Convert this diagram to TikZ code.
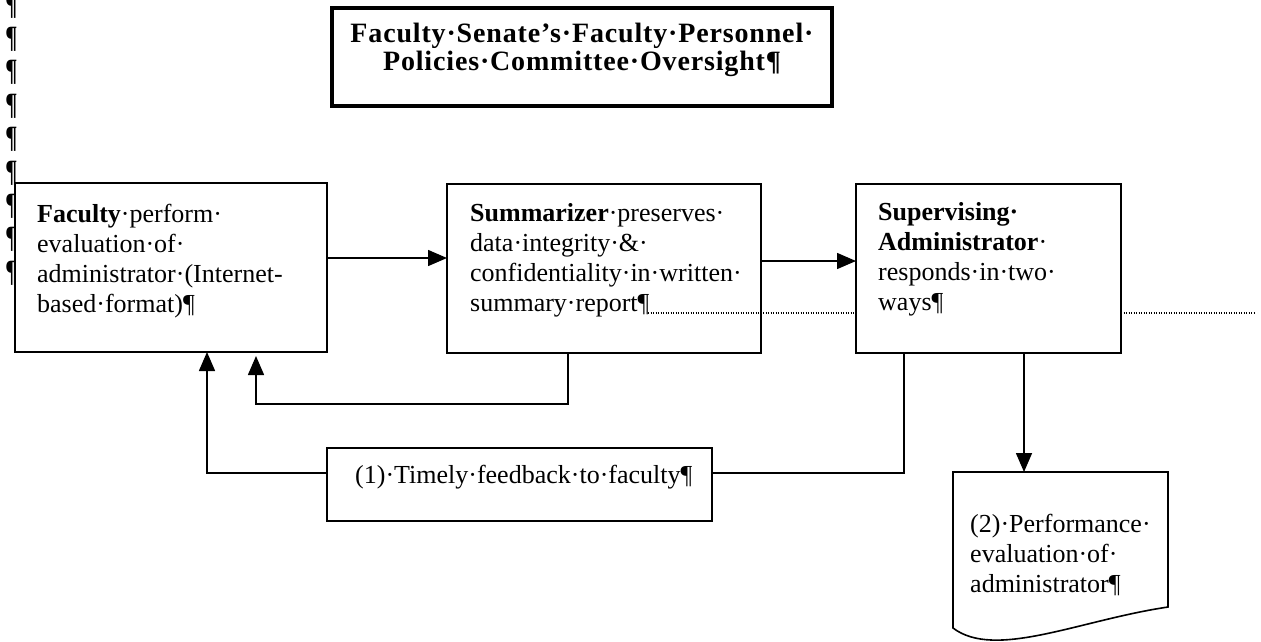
\documentclass[tikz,border=0pt]{standalone}
\usepackage{fontspec}
\usepackage{graphicx}
\setmainfont{Liberation Serif}
\usetikzlibrary{arrows.meta,calc}
\begin{document}
\begin{tikzpicture}[x=1pt,y=-1pt,
  box/.style={draw, line width=1.6pt, anchor=north west, inner sep=0pt, outer sep=0pt, fill=white},
  txt/.style={anchor=base west, inner sep=0pt, align=left, text width=300pt, font=\fontsize{26}{30}\selectfont},
  conn/.style={line width=1.5pt},
  arr/.style={conn, -{Triangle[length=19pt,width=16pt]}},
  pil/.style={inner sep=0pt, font=\fontsize{31}{32}\selectfont\bfseries},
  dotline/.style={line width=1.2pt, dash pattern=on 1.2pt off 1.3pt},
]
\useasboundingbox (0,0) rectangle (1261,641);

% left paragraph marks
\foreach \i/\y in {1/5.8,2/39.2,3/72.6,4/106,5/139.4,6/172.8,7/206.2,8/239.6,9/273}
  \node[pil] (p\i) at (11.5,\y) {\scalebox{0.72}[1]{¶}};

% title
\node[draw, line width=4.5pt, minimum width=500pt, minimum height=98pt, inner sep=0pt] (title) at (582,57) {};
\node[anchor=base, inner sep=0pt, align=center, text width=490pt,
      font=\fontsize{28}{28}\selectfont\bfseries\addfontfeatures{LetterSpace=3}] (ttitle) at (582,42)
  {Faculty·Senate’s·Faculty·Personnel·\\Policies·Committee·Oversight¶};

% boxes
\node[box, minimum width=312pt, minimum height=169pt] (fac) at (15,183) {};
\node[box, minimum width=314pt, minimum height=169pt] (sum) at (447,184) {};
\node[box, minimum width=265pt, minimum height=169pt] (sup) at (856,184) {};
\node[box, minimum width=385pt, minimum height=73pt] (fb) at (327,448) {};

\node[txt] (tfac) at (37,222) {\textbf{Faculty}·perform·\\evaluation·of·\\administrator·(Internet-\\based·format)¶};
\node[txt] (tsum) at (470,221) {\textbf{Summarizer}·preserves·\\data·integrity·\&·\\confidentiality·in·written·\\summary·report¶};
\node[txt] (tsup) at (878,220) {\textbf{Supervising·}\\\textbf{Administrator}·\\responds·in·two·\\ways¶};
\node[txt] (tfb) at (355,483) {(1)·Timely·feedback·to·faculty¶};

% document shape
\coordinate (docNW) at (953,472);
\coordinate (docNE) at (1168,472);
\coordinate (docSE) at (1168,607);
\coordinate (docSW) at (953,628);
\coordinate (docTop) at (1024,472);
\draw[line width=1.6pt, fill=white] (docNW) -- (docNE) -- (docSE)
  .. controls (1080,620) and (995,660) .. (docSW) -- cycle;
\node[txt] (tdoc) at (970,532) {(2)·Performance·\\evaluation·of·\\administrator¶};

% dotted leader line
\coordinate (dotA) at (648,313);
\coordinate (dotB) at (1255,313);
\draw[dotline] (dotA) -- (sup.west |- dotA);
\draw[dotline] (sup.east |- dotA) -- (dotB);

% connectors
\draw[arr] (fac.east |- 0,258) -- (sum.west |- 0,258);
\draw[arr] (sum.east |- 0,261) -- (sup.west |- 0,261);
\draw[arr] (sum.south -| 568,0) -- (568,404) -- (256,404) -- ($(fac.south -| 256,0)+(0,4)$);
\draw[arr] (fb.west |- 0,473) -- (207,473) -- (fac.south -| 207,0);
\draw[conn] (fb.east |- 0,473) -- (904,473) -- (sup.south -| 904,0);
\draw[arr] (sup.south -| 1024,0) -- (docTop);
\end{tikzpicture}
\end{document}
